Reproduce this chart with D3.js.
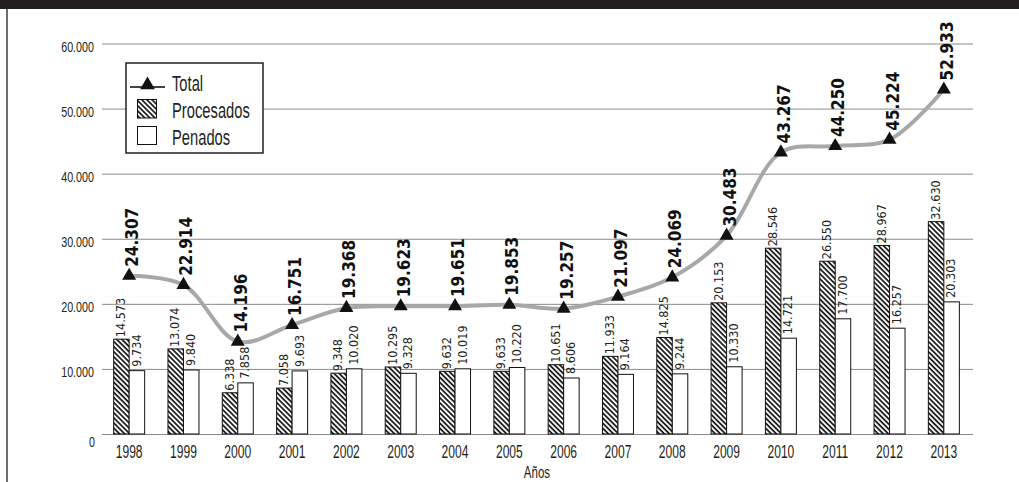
<!DOCTYPE html>
<html><head><meta charset="utf-8">
<script src="https://cdn.jsdelivr.net/npm/d3@7"></script>
<style>
html,body{margin:0;padding:0;background:#fff;}
svg{display:block;}
</style></head><body>
<svg id="chart" width="1019" height="482"></svg>
<script>
const years = ["1998","1999","2000","2001","2002","2003","2004","2005","2006","2007","2008","2009","2010","2011","2012","2013"];
const procesados = [14573,13074,6338,7058,9348,10295,9632,9633,10651,11933,14825,20153,28546,26550,28967,32630];
const penados = [9734,9840,7858,9693,10020,9328,10019,10220,8606,9164,9244,10330,14721,17700,16257,20303];
const total = [24307,22914,14196,16751,19368,19623,19651,19853,19257,21097,24069,30483,43267,44250,45224,52933];
const yTicks = [0,10000,20000,30000,40000,50000,60000];
const legendLabels = ["Total","Procesados","Penados"];
const xTitle = "Años";

const W = 1019, H = 482;
const svg = d3.select("#chart");
const x = d3.scaleBand().domain(years).range([102, 971]).padding(0);
const y = d3.scaleLinear().domain([0, 60000]).range([434, 43.5]);
const loc = d3.formatLocale({decimal: ",", thousands: ".", grouping: [3], currency: ["", ""]});
const fmt = loc.format(",d");
const cx = d => x(d) + x.bandwidth() / 2;
const BW = 15.5;

const SANS = "'Liberation Sans',Arial,sans-serif";
const COND = "'DejaVu Sans Condensed','DejaVu Sans',sans-serif";

function squeeze(sel, k) {
  sel.each(function () {
    const L = this.getComputedTextLength();
    d3.select(this).attr("textLength", L * k).attr("lengthAdjust", "spacingAndGlyphs");
  });
}

// hatch pattern
const defs = svg.append("defs");
const pat = defs.append("pattern").attr("id", "hatch")
  .attr("patternUnits", "userSpaceOnUse").attr("width", 3.6).attr("height", 3.6)
  .attr("patternTransform", "rotate(-45)");
pat.append("rect").attr("width", 3.6).attr("height", 3.6).attr("fill", "#fff");
pat.append("line").attr("x1", 1).attr("y1", -1).attr("x2", 1).attr("y2", 4.6)
  .attr("stroke", "#111").attr("stroke-width", 1.7);

// frame
svg.append("rect").attr("x", 0).attr("y", 0).attr("width", W).attr("height", 9).attr("fill", "#231f20");
svg.append("line").attr("x1", 7).attr("x2", 7).attr("y1", 9).attr("y2", H)
  .attr("stroke", "#6d6d6d").attr("stroke-width", 2);

// y axis with grid
const yAxis = svg.append("g").attr("transform", "translate(102,0)")
  .call(d3.axisLeft(y).tickValues(yTicks).tickFormat(fmt).tickSize(-871).tickPadding(8));
yAxis.select(".domain").remove();
yAxis.selectAll(".tick line").attr("stroke", "#8a8a8a").attr("stroke-width", 1);
yAxis.selectAll(".tick text")
  .attr("font-family", SANS).attr("font-size", 14.5).attr("fill", "#231f20")
  .attr("dy", d => d === 0 ? 12.5 : 7.5)
  .attr("x", d => d === 0 ? -7 : -8);
squeeze(yAxis.selectAll(".tick text"), 0.74);

// x axis
const xAxis = svg.append("g").attr("transform", "translate(0,434)")
  .call(d3.axisBottom(x).tickSize(0).tickPadding(11));
xAxis.select(".domain").remove();
xAxis.selectAll(".tick text")
  .attr("font-family", SANS).attr("font-size", 18).attr("fill", "#231f20");
squeeze(xAxis.selectAll(".tick text"), 0.67);

// bars
const gBars = svg.append("g");
gBars.selectAll("rect.proc").data(years).join("rect").attr("class", "proc")
  .attr("x", (d) => cx(d) - BW).attr("width", BW)
  .attr("y", (d, i) => y(procesados[i])).attr("height", (d, i) => y(0) - y(procesados[i]))
  .attr("fill", "url(#hatch)").attr("stroke", "#111").attr("stroke-width", 1);
gBars.selectAll("rect.pen").data(years).join("rect").attr("class", "pen")
  .attr("x", (d) => cx(d)).attr("width", BW)
  .attr("y", (d, i) => y(penados[i])).attr("height", (d, i) => y(0) - y(penados[i]))
  .attr("fill", "#fff").attr("stroke", "#111").attr("stroke-width", 1);

// bar labels
const gBL = svg.append("g").attr("font-family", COND).attr("font-size", 12.5).attr("fill", "#231f20");
gBL.selectAll("text.pl").data(years).join("text").attr("class", "pl")
  .attr("transform", (d, i) => `translate(${cx(d) - BW + 11.5},${y(procesados[i]) - 2}) rotate(-90)`)
  .text((d, i) => fmt(procesados[i]));
gBL.selectAll("text.nl").data(years).join("text").attr("class", "nl")
  .attr("transform", (d, i) => `translate(${cx(d) + 11.5},${y(penados[i]) - 4}) rotate(-90)`)
  .text((d, i) => fmt(penados[i]));

// total line
const line = d3.line().x((d, i) => cx(years[i])).y(d => y(d)).curve(d3.curveCatmullRom.alpha(0.5));
svg.append("path").datum(total).attr("d", line)
  .attr("fill", "none").attr("stroke", "#a8a8a8").attr("stroke-width", 4).attr("stroke-linecap", "round");

const tri = d3.symbol(d3.symbolTriangle, 85);
svg.append("g").selectAll("path").data(total).join("path")
  .attr("d", tri).attr("fill", "#111")
  .attr("transform", (d, i) => `translate(${cx(years[i])},${y(d)})`);

svg.append("g").attr("font-family", COND).attr("font-weight", "bold").attr("font-size", 17).attr("fill", "#111")
  .selectAll("text").data(total).join("text")
  .attr("transform", (d, i) => `translate(${cx(years[i]) + 9},${y(d) - 9}) rotate(-90)`)
  .text(d => fmt(d));

// x title
const xt = svg.append("text").attr("x", 537).attr("y", 478).attr("text-anchor", "middle")
  .attr("font-family", SANS).attr("font-size", 16).attr("fill", "#231f20").text(xTitle);
squeeze(xt, 0.72);

// legend
const lg = svg.append("g");
lg.append("rect").attr("x", 126).attr("y", 63).attr("width", 137).attr("height", 90)
  .attr("fill", "#fff").attr("stroke", "#231f20").attr("stroke-width", 1.5);
lg.append("line").attr("x1", 130).attr("x2", 165).attr("y1", 87).attr("y2", 87)
  .attr("stroke", "#444").attr("stroke-width", 2);
lg.append("path").attr("d", d3.symbol(d3.symbolTriangle, 95)).attr("fill", "#111")
  .attr("transform", "translate(147.5,85)");
lg.append("rect").attr("x", 137.5).attr("y", 99.5).attr("width", 19).attr("height", 18.5)
  .attr("fill", "url(#hatch)").attr("stroke", "#111").attr("stroke-width", 1);
lg.append("rect").attr("x", 137.5).attr("y", 126.5).attr("width", 19).attr("height", 18)
  .attr("fill", "#fff").attr("stroke", "#111").attr("stroke-width", 1);
const lt = lg.selectAll("text").data(legendLabels).join("text")
  .attr("x", 172).attr("y", (d, i) => [91, 118, 145][i])
  .attr("font-family", SANS).attr("font-size", 22).attr("fill", "#231f20")
  .text(d => d);
squeeze(lt, 0.67);
</script>
</body></html>
